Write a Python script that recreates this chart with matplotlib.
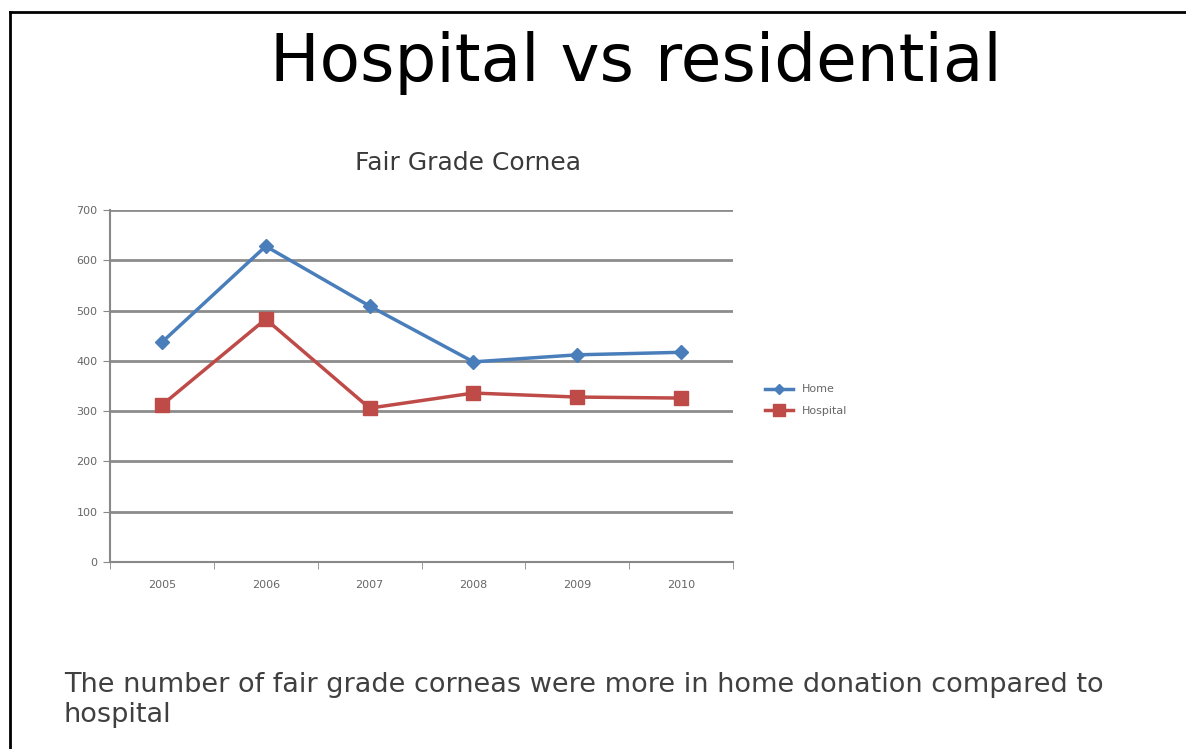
import numpy as np
import matplotlib.pyplot as plt
from matplotlib.lines import Line2D

years = ['2005', '2006', '2007', '2008', '2009', '2010']
home = [437, 628, 509, 398, 412, 417]
hospital = [312, 483, 306, 336, 328, 326]
yticks = [0, 100, 200, 300, 400, 500, 600, 700]

W, H = 1186, 749
fig = plt.figure(figsize=(W / 100, H / 100), dpi=100)
fig.patch.set_facecolor('white')

# slide frame (left + top edges)
fig.add_artist(Line2D([10 / W, 10 / W], [0, 1 - 12 / H], color='black', lw=2))
fig.add_artist(Line2D([10 / W, 1], [1 - 12 / H, 1 - 12 / H], color='black', lw=2))

fig.text(636 / W, 1 - 63 / H, 'Hospital vs residential', ha='center', va='center',
         fontsize=47.5, family='DejaVu Sans', color='black')
fig.text(468 / W, 1 - 163 / H, 'Fair Grade Cornea', ha='center', va='center',
         fontsize=18, family='DejaVu Sans', color='#3a3a3a')
fig.text(64 / W, 1 - 685 / H, 'The number of fair grade corneas were more in home donation compared to',
         ha='left', va='center', fontsize=19.5, family='DejaVu Sans', color='#404040')
fig.text(64 / W, 1 - 715 / H, 'hospital',
         ha='left', va='center', fontsize=19.5, family='DejaVu Sans', color='#404040')

ax = fig.add_axes([110 / W, 1 - 562 / H, (733 - 110) / W, (562 - 210) / H])
x = np.arange(len(years))
ax.plot(x, home, color='#4a7ebb', lw=2.5, marker='D', ms=7, label='Home')
ax.plot(x, hospital, color='#be4b48', lw=2.5, marker='s', ms=10, label='Hospital')

ax.set_xlim(-0.5, 5.5)
ax.set_ylim(0, 700)
ax.set_yticks(yticks)
ax.set_xticks(x)
ax.set_xticklabels(years)
ax.set_xticks(np.arange(-0.5, 6, 1), minor=True)
ax.tick_params(axis='x', which='major', length=0, pad=13, labelsize=8, labelcolor='#666666')
ax.tick_params(axis='x', which='minor', length=5, color='#888888', direction='out')
ax.tick_params(axis='y', length=5, color='#888888', labelsize=8, labelcolor='#666666', pad=4)
ax.grid(axis='y', color='#8c8c8c', lw=2)
ax.set_axisbelow(True)
for s in ['top', 'right']:
    ax.spines[s].set_visible(False)
ax.spines['left'].set_color('#888888')
ax.spines['bottom'].set_color('#888888')
ax.spines['left'].set_linewidth(1.5)
ax.spines['bottom'].set_linewidth(1.5)

leg = fig.legend(handles=ax.get_lines(), loc='center left', bbox_to_anchor=(755 / W, 1 - 400 / H),
                 frameon=False, fontsize=8, handlelength=2.5, labelspacing=1.0, markerscale=0.8)
for t in leg.get_texts():
    t.set_color('#666666')

fig.savefig('out.png', dpi=100)
